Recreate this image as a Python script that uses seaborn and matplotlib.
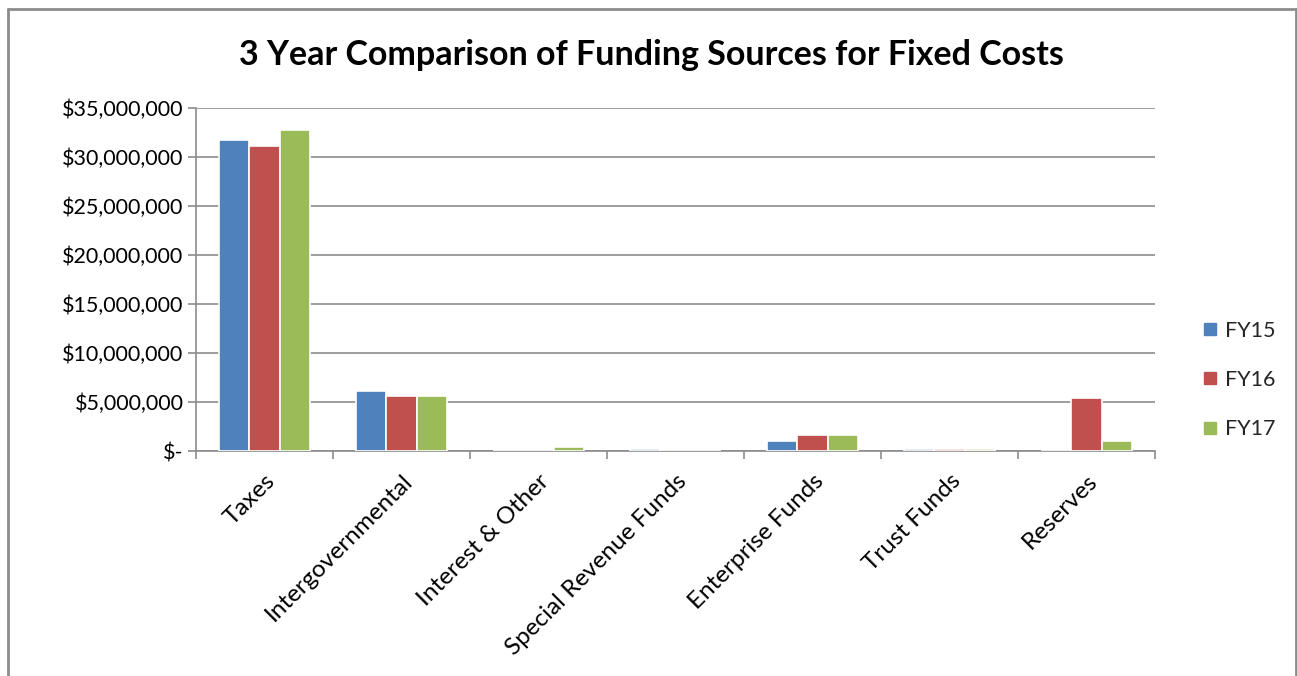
import matplotlib
matplotlib.use("Agg")
import matplotlib.pyplot as plt
from matplotlib.lines import Line2D
from matplotlib.ticker import FuncFormatter, FixedLocator
import seaborn as sns
import pandas as pd

categories = ["Taxes", "Intergovernmental", "Interest & Other",
              "Special Revenue Funds", "Enterprise Funds", "Trust Funds", "Reserves"]
years = ["FY15", "FY16", "FY17"]
fy15 = [31_750_000, 6_100_000, 0, 250_000, 990_000, 200_000, 0]
fy16 = [31_100_000, 5_650_000, 0, 50_000, 1_600_000, 200_000, 5_380_000]
fy17 = [32_800_000, 5_650_000, 400_000, 50_000, 1_620_000, 200_000, 1_020_000]
colors = ["#4F81BD", "#C0504D", "#9BBB59"]

df = pd.DataFrame({
    "Source": categories * 3,
    "Year": [y for y in years for _ in categories],
    "Amount": fy15 + fy16 + fy17,
})

sns.set_theme(style="white")
plt.rcParams["font.family"] = ["Lato", "DejaVu Sans"]

fig = plt.figure(figsize=(12.97, 6.76), dpi=100)
ax = fig.add_axes([196 / 1297, 1 - 451 / 676, (1155 - 196) / 1297, (451 - 108) / 676])

sns.barplot(data=df, x="Source", y="Amount", hue="Year", palette=colors,
            width=0.66, edgecolor="white", linewidth=1.2, saturation=1,
            ax=ax, zorder=3)

ax.set_ylim(0, 35_000_000)
ax.set_xlim(-0.5, len(categories) - 0.5)
ax.set_yticks(range(0, 35_000_001, 5_000_000))


def dollars(v, _):
    return "$-" if v == 0 else f"${v:,.0f}"


ax.yaxis.set_major_formatter(FuncFormatter(dollars))
ax.yaxis.grid(True, color="#8c8c8c", linewidth=1.2, zorder=0)
ax.set_axisbelow(True)
ax.set_xlabel("")
ax.set_ylabel("")

for side in ["top", "right"]:
    ax.spines[side].set_visible(False)
for side in ["left", "bottom"]:
    ax.spines[side].set_color("#8c8c8c")
    ax.spines[side].set_linewidth(1.2)

ax.tick_params(axis="y", which="major", left=True, length=6, width=1.2,
               color="#8c8c8c", labelsize=15.5, labelcolor="black", pad=3)
ax.set_xticks(range(len(categories)))
ax.set_xticklabels(categories, rotation=45, ha="right", rotation_mode="anchor",
                   fontsize=17.5, color="black")
ax.tick_params(axis="x", which="major", bottom=False, pad=8)
ax.xaxis.set_minor_locator(FixedLocator([i - 0.5 for i in range(len(categories) + 1)]))
ax.tick_params(axis="x", which="minor", bottom=True, length=6, width=1.2, color="#8c8c8c")

handles = [Line2D([0], [0], marker="s", linestyle="none", markersize=9,
                  markerfacecolor=c, markeredgecolor=c) for c in colors]
fig.legend(handles, years, loc="center left", bbox_to_anchor=(1188 / 1297, 1 - 380 / 676),
           frameon=False, fontsize=15.5, labelspacing=1.35, handletextpad=0.2,
           handlelength=1.0, borderpad=0)
if ax.get_legend() is not None:
    ax.get_legend().remove()

fig.text(651 / 1297, 1 - 55 / 676, "3 Year Comparison of Funding Sources for Fixed Costs",
         ha="center", va="center", fontsize=24.5, fontweight="bold", color="black")

# chart frame
frame_kw = dict(color="#8c8c8c", linewidth=2, transform=fig.transFigure)
fig.add_artist(Line2D([8 / 1297, 8 / 1297], [0, 1 - 9 / 676], **frame_kw))
fig.add_artist(Line2D([8 / 1297, 1296 / 1297], [1 - 9 / 676, 1 - 9 / 676], **frame_kw))
fig.add_artist(Line2D([1296 / 1297, 1296 / 1297], [0, 1 - 9 / 676], **frame_kw))

fig.savefig("out.png", dpi=100, facecolor="white")
